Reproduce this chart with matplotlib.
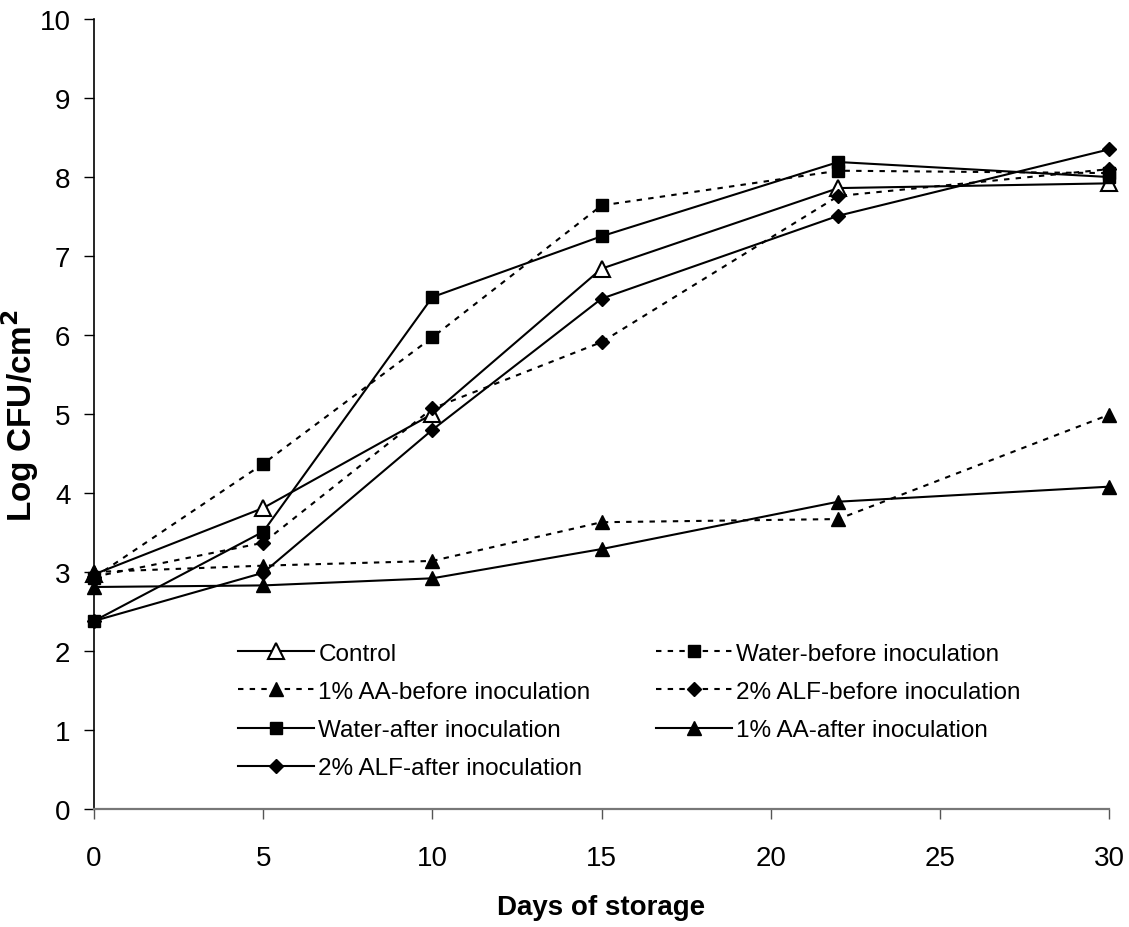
import matplotlib
matplotlib.use("Agg")
import matplotlib.pyplot as plt

plt.rcParams['font.family'] = ['Liberation Sans', 'DejaVu Sans']

days = [0, 5, 10, 15, 22, 30]

control = [2.97, 3.81, 5.00, 6.84, 7.86, 7.92]
water_before = [2.93, 4.37, 5.97, 7.64, 8.08, 8.05]
aa_before = [3.00, 3.08, 3.14, 3.63, 3.67, 4.99]
alf_before = [2.94, 3.37, 5.07, 5.91, 7.76, 8.10]
water_after = [2.38, 3.51, 6.48, 7.25, 8.19, 8.00]
aa_after = [2.81, 2.83, 2.92, 3.29, 3.89, 4.08]
alf_after = [2.38, 2.99, 4.80, 6.46, 7.51, 8.35]

series_labels = [
    "Control",
    "Water-before inoculation",
    "1% AA-before inoculation",
    "2% ALF-before inoculation",
    "Water-after inoculation",
    "1% AA-after inoculation",
    "2% ALF-after inoculation",
]

x_ticks = [0, 5, 10, 15, 20, 25, 30]
y_ticks = list(range(0, 11))

fig = plt.figure(figsize=(11.29, 9.28), dpi=100)
ax = fig.add_axes([0.0833, 0.1272, 0.8990, 0.8512])

dotted = (0, (2.6, 3.0))
lw = 1.5
styles = [
    dict(linestyle='-', marker='^', markersize=11, markerfacecolor='white', markeredgecolor='black', markeredgewidth=1.5),
    dict(linestyle=dotted, marker='s', markersize=8.5),
    dict(linestyle=dotted, marker='^', markersize=10),
    dict(linestyle=dotted, marker='D', markersize=7.5),
    dict(linestyle='-', marker='s', markersize=8.5),
    dict(linestyle='-', marker='^', markersize=10),
    dict(linestyle='-', marker='D', markersize=7.5),
]
data = [control, water_before, aa_before, alf_before, water_after, aa_after, alf_after]

handles = []
for values, label, st in zip(data, series_labels, styles):
    kw = dict(color='black', linewidth=lw, markerfacecolor='black', markeredgecolor='black')
    kw.update(st)
    line, = ax.plot(days, values, label=label, clip_on=False, **kw)
    handles.append(line)

ax.set_xlim(0, 30)
ax.set_ylim(0, 10)
ax.set_xticks(x_ticks)
ax.set_yticks(y_ticks)
ax.tick_params(axis='both', labelsize=20, direction='out', length=7, width=1, colors='black')
ax.tick_params(axis='x', pad=19, color='#555555')
ax.tick_params(axis='y', pad=10)

for side in ['top', 'right']:
    ax.spines[side].set_visible(False)
ax.spines['left'].set_linewidth(1.2)
ax.spines['bottom'].set_linewidth(1.6)
ax.spines['bottom'].set_color('#777777')

ax.set_xlabel("Days of storage", fontsize=20, fontweight='bold')
ax.xaxis.set_label_coords(0.5, -0.124)
ax.xaxis.label.set_va('center')
ax.set_ylabel("Log CFU/cm$^\\mathbf{2}$", fontsize=24, fontweight='bold')
ax.yaxis.set_label_coords(-0.073, 0.5)
ax.yaxis.label.set_va('center')

# legend entries fill row by row across two columns
order = [0, 2, 4, 6, 1, 3, 5]
leg = ax.legend([handles[i] for i in order], [series_labels[i] for i in order],
                ncol=2, frameon=False, fontsize=17.5,
                loc='center left', bbox_to_anchor=(0.142, 0.124),
                handlelength=3.1, handletextpad=0.2, columnspacing=2.7,
                labelspacing=0.66, borderpad=0, borderaxespad=0)

fig.savefig("out.png", dpi=100, facecolor='white')
